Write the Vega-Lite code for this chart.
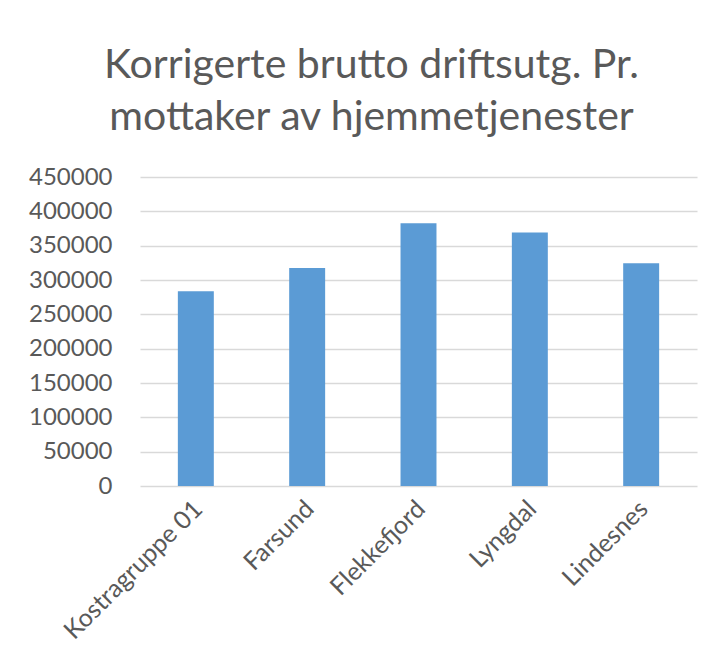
{
  "$schema": "https://vega.github.io/schema/vega-lite/v6.json",
  "width": 557,
  "height": 309,
  "autosize": {"type": "none"},
  "padding": {"left": 140, "top": 177, "right": 28, "bottom": 186},
  "background": "white",
  "data": {
    "values": [
      {"kommune": "Kostragruppe 01", "verdi": 283500},
      {"kommune": "Farsund", "verdi": 317500},
      {"kommune": "Flekkefjord", "verdi": 382500},
      {"kommune": "Lyngdal", "verdi": 369000},
      {"kommune": "Lindesnes", "verdi": 324300}
    ]
  },
  "title": {
    "text": ["Korrigerte brutto driftsutg. Pr.", "mottaker av hjemmetjenester"],
    "font": "Lato",
    "fontSize": 41,
    "fontWeight": "normal",
    "color": "#595959",
    "anchor": "middle",
    "dx": -47,
    "offset": 26,
    "lineHeight": 52
  },
  "mark": {"type": "bar", "color": "#5B9BD5"},
  "encoding": {
    "x": {
      "field": "kommune",
      "type": "nominal",
      "sort": null,
      "scale": {"paddingInner": 0.677, "paddingOuter": 0.34},
      "axis": {
        "title": null,
        "labelAngle": -45,
        "labelFont": "Lato",
        "labelFontSize": 25,
        "labelColor": "#595959",
        "labelPadding": 10,
        "labelOffset": -6,
        "labelLimit": 400,
        "ticks": false,
        "domain": false,
        "grid": false
      }
    },
    "y": {
      "field": "verdi",
      "type": "quantitative",
      "scale": {"domain": [0, 450000], "nice": false},
      "axis": {
        "title": null,
        "values": [0, 50000, 100000, 150000, 200000, 250000, 300000, 350000, 400000, 450000],
        "format": "d",
        "labelFont": "Lato",
        "labelFontSize": 24,
        "labelColor": "#595959",
        "labelPadding": 28,
        "ticks": false,
        "domain": false,
        "grid": true,
        "gridColor": "#D9D9D9",
        "gridWidth": 1.5
      }
    }
  },
  "config": {
    "view": {"stroke": null}
  }
}
